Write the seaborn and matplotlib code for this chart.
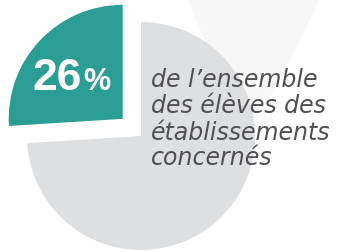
import matplotlib
matplotlib.use("Agg")
import matplotlib.pyplot as plt
import seaborn as sns
from matplotlib.patches import PathPatch
from matplotlib.path import Path

# ---- data ----
categories = ["Élèves concernés", "Autres élèves"]
shares = [26, 74]
colors = ["#2a9d94", "#dedfe1"]
big_label = "26"
pct_sign = "%"
caption_lines = ["de l’ensemble", "des élèves des", "établissements", "concernés"]

sns.set_theme(style="white")
plt.rcParams["font.family"] = ["Liberation Sans", "DejaVu Sans"]

W, H = 352, 253
fig = plt.figure(figsize=(W / 100, H / 100), dpi=100)
fig.patch.set_facecolor("white")
ax = fig.add_axes([0, 0, 1, 1])
ax.set_facecolor("white")

# pixel geometry of pie
cx, cy, R = 141.0, 137.0, 114.0

def px(x, y):
    """pixel (from top-left) -> data coords (radius units)"""
    return (x - cx) / R, (cy - y) / R

# faint decorative background shape
verts = [px(188, -2), px(205, 60), px(262, 112), px(300, 45), px(320, -2), px(188, -2)]
codes = [Path.MOVETO, Path.CURVE3, Path.LINETO, Path.CURVE3, Path.LINETO, Path.CLOSEPOLY]
ax.add_patch(PathPatch(Path(verts, codes), facecolor="#f7f7f7", edgecolor="none", zorder=0))

wedges, _ = ax.pie(shares, colors=colors, startangle=90, counterclock=True,
                   explode=[0.22, 0.0], radius=1.0,
                   wedgeprops=dict(linewidth=0, zorder=1))

x0, x1 = px(0, 0)[0], px(W, 0)[0]
y1, y0 = px(0, 0)[1], px(0, H)[1]
ax.set_xlim(x0, x1)
ax.set_ylim(y0, y1)
ax.set_aspect("auto")
ax.axis("off")

def fpos(x, y):
    return x / W, 1 - y / H

fig.text(*fpos(33, 90), big_label, color="white", fontsize=32, fontweight="bold",
         ha="left", va="baseline")
fig.text(*fpos(83, 90), pct_sign, color="white", fontsize=22, fontweight="bold",
         ha="left", va="baseline")

baselines = [87, 113, 140, 165]
for line, b in zip(caption_lines, baselines):
    fig.text(*fpos(151, b), line, color="#505052", fontsize=17, fontstyle="italic",
             family=["DejaVu Sans"], ha="left", va="baseline")

fig.savefig("out.png", dpi=100, facecolor="white")
